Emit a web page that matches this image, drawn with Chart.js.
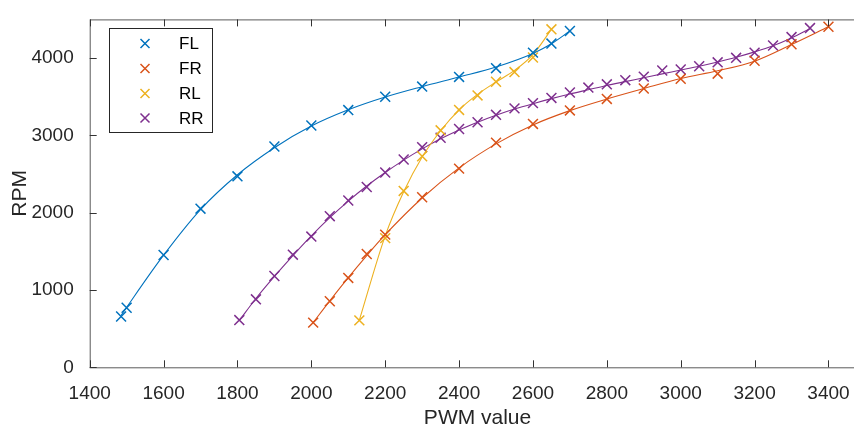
<!DOCTYPE html>
<html>
<head>
<meta charset="utf-8">
<script src="https://cdn.jsdelivr.net/npm/chart.js@4/dist/chart.umd.min.js"></script>
<style>
  html, body { margin: 0; padding: 0; background: #fff; }
  #wrap { width: 854px; height: 434px; overflow: hidden; }
</style>
</head>
<body>
<div id="wrap"><canvas id="chart" width="880" height="434"></canvas></div>
<script>
const flPwm = [1485, 1500, 1600, 1700, 1800, 1900, 2000, 2100, 2200, 2300, 2400, 2500, 2600, 2650, 2700];
const flRpm = [657, 770, 1452, 2052, 2470, 2856, 3128, 3327, 3500, 3631, 3756, 3869, 4070, 4187, 4350];
// fitted curve, read at the same PWM values
const flFit = [670, 775, 1450, 2040, 2490, 2840, 3120, 3330, 3495, 3630, 3755, 3885, 4060, 4185, 4350];

const frPwm = [2005, 2050, 2100, 2150, 2200, 2300, 2400, 2500, 2600, 2700, 2800, 2900, 3000, 3100, 3200, 3300, 3400];
const frRpm = [578, 854, 1156, 1465, 1716, 2199, 2570, 2906, 3148, 3323, 3471, 3606, 3731, 3798, 3965, 4178, 4405];
const frFit = [580, 860, 1160, 1445, 1715, 2190, 2580, 2890, 3135, 3320, 3470, 3605, 3735, 3835, 3960, 4175, 4405];

const rlPwm = [2130, 2200, 2250, 2300, 2350, 2400, 2450, 2500, 2550, 2600, 2650];
const rlRpm = [607, 1671, 2281, 2730, 3065, 3329, 3517, 3693, 3819, 4007, 4372];
const rlFit = [610, 1700, 2270, 2720, 3060, 3330, 3530, 3690, 3840, 4045, 4370];

const rrPwm = [1805, 1850, 1900, 1950, 2000, 2050, 2100, 2150, 2200, 2250, 2300, 2350, 2400, 2450, 2500, 2550,
  2600, 2650, 2700, 2750, 2800, 2850, 2900, 2950, 3000, 3050, 3100, 3150, 3200, 3250, 3300, 3350];
const rrRpm = [611, 879, 1181, 1457, 1691, 1955, 2158, 2332, 2520, 2688, 2847, 2969, 3082, 3170, 3266, 3349,
  3417, 3484, 3555, 3618, 3660, 3714, 3760, 3839, 3852, 3894, 3945, 4003, 4070, 4162, 4271, 4388];
const rrFit = [605, 890, 1175, 1445, 1700, 1935, 2150, 2345, 2520, 2680, 2825, 2955, 3070, 3170, 3260, 3340,
  3410, 3475, 3535, 3590, 3645, 3695, 3745, 3795, 3845, 3895, 3950, 4010, 4080, 4160, 4260, 4380];

const seriesNames = ['FL', 'FR', 'RL', 'RR'];
const seriesColors = ['#0072BD', '#D95319', '#EDB120', '#7E2F8E'];

const xTicks = [1400, 1600, 1800, 2000, 2200, 2400, 2600, 2800, 3000, 3200, 3400];
const yTicks = [0, 1000, 2000, 3000, 4000];

const FONT = '"Liberation Sans", Arial, Helvetica, sans-serif';
const TEXT = '#262626';
const AXIS = '#5a5a5a';

function points(xs, ys) {
  return xs.map((x, i) => ({ x: x, y: ys[i] }));
}

const allX = [flPwm, frPwm, rlPwm, rrPwm];
const allY = [flRpm, frRpm, rlRpm, rrRpm];
const allFit = [flFit, frFit, rlFit, rrFit];

const datasets = [];
seriesNames.forEach((name, i) => {
  // fitted line
  datasets.push({
    label: name + ' fit',
    data: points(allX[i], allFit[i]),
    showLine: true,
    borderColor: seriesColors[i],
    borderWidth: 1.1,
    cubicInterpolationMode: 'monotone',
    pointRadius: 0,
    pointHoverRadius: 0
  });
  // markers
  datasets.push({
    label: name,
    data: points(allX[i], allY[i]),
    showLine: false,
    borderColor: seriesColors[i],
    backgroundColor: seriesColors[i],
    pointStyle: 'crossRot',
    pointRadius: 7,
    pointHoverRadius: 7,
    pointBorderWidth: 1.5,
    pointBorderColor: seriesColors[i]
  });
});

// matlab-like box with inward ticks + legend
const boxPlugin = {
  id: 'box',
  afterDraw(chart) {
    const { ctx, chartArea: a, scales } = chart;
    ctx.save();
    ctx.strokeStyle = AXIS;
    ctx.lineWidth = 1;
    ctx.strokeRect(a.left + 0.5, a.top + 0.5, a.right - a.left, a.bottom - a.top);
    ctx.strokeStyle = '#333';
    ctx.beginPath();
    xTicks.forEach(v => {
      const px = Math.round(scales.x.getPixelForValue(v)) + 0.5;
      ctx.moveTo(px, a.bottom);
      ctx.lineTo(px, a.bottom - 7);
      ctx.moveTo(px, a.top);
      ctx.lineTo(px, a.top + 7);
    });
    yTicks.forEach(v => {
      const py = Math.round(scales.y.getPixelForValue(v)) + 0.5;
      ctx.moveTo(a.left, py);
      ctx.lineTo(a.left + 7, py);
      ctx.moveTo(a.right, py);
      ctx.lineTo(a.right - 7, py);
    });
    ctx.stroke();

    const lx = 109, ly = 28.5, lw = 103, lh = 104;
    ctx.fillStyle = '#fff';
    ctx.fillRect(lx, ly, lw, lh);
    ctx.strokeStyle = '#262626';
    ctx.strokeRect(lx + 0.5, ly, lw, lh);
    const rows = [43.5, 68.5, 93.5, 118];
    ctx.font = '17px ' + FONT;
    ctx.textBaseline = 'middle';
    ctx.textAlign = 'left';
    seriesNames.forEach((name, i) => {
      const cy = rows[i], cx = 145;
      ctx.strokeStyle = seriesColors[i];
      ctx.lineWidth = 1.5;
      ctx.beginPath();
      ctx.moveTo(cx - 4.5, cy - 4.5); ctx.lineTo(cx + 4.5, cy + 4.5);
      ctx.moveTo(cx + 4.5, cy - 4.5); ctx.lineTo(cx - 4.5, cy + 4.5);
      ctx.stroke();
      ctx.fillStyle = '#000';
      ctx.fillText(name, 179, cy + 1);
    });
    ctx.restore();
  }
};

new Chart(document.getElementById('chart').getContext('2d'), {
  type: 'scatter',
  data: { datasets: datasets },
  options: {
    responsive: false,
    animation: false,
    events: [],
    layout: { padding: { top: 9, right: 14.6, left: 0, bottom: 0 } },
    plugins: {
      legend: { display: false },
      tooltip: { enabled: false }
    },
    scales: {
      x: {
        type: 'linear',
        min: 1400,
        max: 3500,
        afterFit(scale) { scale.height = 66.7; },
        afterBuildTicks(scale) { scale.ticks = xTicks.map(v => ({ value: v })); },
        grid: { display: false },
        border: { display: false },
        ticks: { color: TEXT, font: { family: FONT, size: 19 }, padding: 7, maxRotation: 0, callback: v => String(v) },
        title: { display: true, text: 'PWM value', color: TEXT, font: { family: FONT, size: 21 }, padding: { top: 0, bottom: 3 } }
      },
      y: {
        type: 'linear',
        min: 0,
        max: 4500,
        afterFit(scale) { scale.width = 89.7; },
        afterBuildTicks(scale) { scale.ticks = yTicks.map(v => ({ value: v })); },
        grid: { display: false },
        border: { display: false },
        ticks: { color: TEXT, font: { family: FONT, size: 19 }, padding: 8, callback: v => String(v) },
        title: { display: true, text: 'RPM', color: TEXT, font: { family: FONT, size: 21 }, padding: { top: 8, bottom: 0 } }
      }
    }
  },
  plugins: [boxPlugin]
});
</script>
</body>
</html>
